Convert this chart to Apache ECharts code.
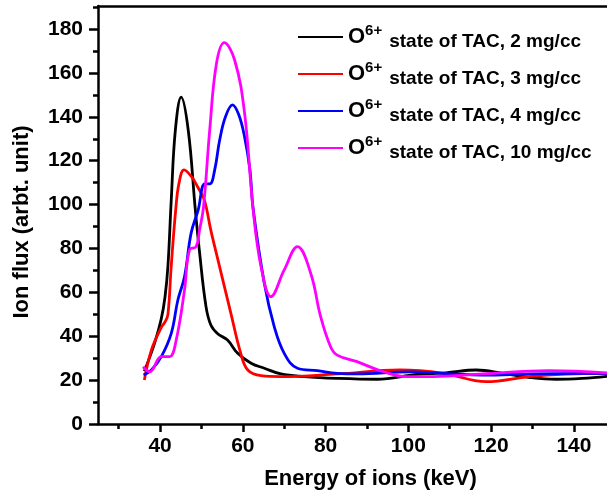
<!DOCTYPE html>
<html>
<head>
<meta charset="utf-8">
<script src="https://cdn.jsdelivr.net/npm/echarts@6/dist/echarts.min.js"></script>
<style>
  html, body { margin: 0; padding: 0; background: #fff; }
  #chart { width: 607px; height: 495px; }
</style>
</head>
<body>
<div id="chart"></div>
<script>
const seriesNames = [
  'O6+ state of TAC, 2 mg/cc',
  'O6+ state of TAC, 3 mg/cc',
  'O6+ state of TAC, 4 mg/cc',
  'O6+ state of TAC, 10 mg/cc'
]
const legendLabels = ['2 mg/cc', '3 mg/cc', '4 mg/cc', '10 mg/cc']

// energy (keV) / flux pairs
const x2 = [36.2, 38.7, 40.3, 41.2, 41.9, 42.7, 43.7, 45.1, 46.8, 48.5, 49.5, 51.1, 52.3, 54, 56.3, 58.75, 62, 65.2, 69.2, 74.8, 82.8, 92.4, 102, 109, 116.4, 122.8, 129, 135.7, 142, 148]
const y2 = [24, 37, 48, 58, 72, 102, 134, 149, 134, 98, 79, 53.5, 45, 41, 38.3, 32.2, 27.7, 25.4, 22.8, 21.6, 20.8, 20.4, 22.6, 23.3, 24.6, 23.1, 21.3, 20.4, 20.8, 21.7]

const x3 = [36.2, 37.9, 40.3, 41.2, 41.9, 42.7, 43.8, 44.6, 45.8, 47.6, 49.1, 50.7, 52.3, 54, 57.1, 59.5, 61.2, 64.4, 69.2, 82.8, 98, 108.4, 118.8, 129.2, 138, 148]
const y3 = [20, 33.7, 44, 46.5, 50, 72, 98, 110, 115.8, 112.7, 108, 102, 88, 74.7, 50.5, 32.2, 24.6, 22, 21.6, 22.8, 24.6, 23.1, 19.3, 21.6, 22.7, 23.1]

const x4 = [36, 37.9, 40.3, 42.7, 44.3, 45.9, 47.5, 49.2, 50.8, 52, 53.2, 54.4, 55.8, 57.5, 59, 60.4, 61.7, 62.5, 65.2, 67.6, 70, 73.2, 78, 82.8, 87.6, 100.4, 109, 118, 130, 148]
const y4 = [22.3, 24.6, 30.7, 41.3, 56.5, 67.1, 87, 97.5, 109.4, 109.4, 115.8, 129.4, 140, 145.4, 141, 131, 116, 98, 64, 44.3, 32.2, 25.4, 24.3, 23.1, 22.8, 23.8, 23, 22.3, 22.8, 23.1]

const x10 = [35.9, 37.5, 40.3, 42.3, 43.9, 45.9, 47.1, 48.7, 49.5, 50.5, 52, 53.6, 55.5, 58, 60.4, 62.5, 64.4, 66.8, 70, 73.2, 76.4, 78.8, 81.2, 82.8, 87.6, 94, 99.6, 106, 118, 134, 148]
const y10 = [26.1, 23.8, 30.7, 30.7, 38.3, 61, 79.3, 80.8, 88, 99, 134, 164, 173.8, 166, 142, 97.5, 71.7, 58, 70.2, 80.8, 68.7, 48.9, 35.2, 31.4, 28.4, 23.8, 21.6, 21.6, 22.8, 24.3, 23.3]

const colors = ['#000000', '#ff0000', '#0000ff', '#ff00ff']

const xMajor = [40, 60, 80, 100, 120, 140]
const xMinor = [30, 50, 70, 90, 110, 130]
const yMajor = [0, 20, 40, 60, 80, 100, 120, 140, 160, 180]
const yMinor = [10, 30, 50, 70, 90, 110, 130, 150, 170, 190]

const font = '"Liberation Sans", Arial, sans-serif'

function pairs(xs, ys) {
  return xs.map((x, i) => [x, ys[i]])
}

const chart = echarts.init(document.getElementById('chart'))

const lineAxis = { lineStyle: { color: '#000', width: 2.5 } }
const tickLine = { width: 2.5, color: '#000' }
const labelFont = { fontSize: 21, fontWeight: 'bold', fontFamily: font, color: '#000' }

const option = {
  animation: false,
  color: colors,
  grid: { left: 98, right: 0, top: 6, bottom: 71 },
  legend: {
    left: 298,
    top: 23,
    padding: 0,
    orient: 'vertical',
    itemWidth: 45,
    itemHeight: 12,
    itemGap: 9,
    icon: 'path://M0,5 L45,5 L45,7 L0,7 Z',
    data: seriesNames,
    formatter: name => {
      const i = seriesNames.indexOf(name)
      return '{o|O}{sup|6+}{s|state of TAC, ' + legendLabels[i] + '}'
    },
    textStyle: {
      fontFamily: font,
      rich: {
        o: { fontSize: 22, fontWeight: 'bold', lineHeight: 28, verticalAlign: 'middle', fontFamily: font, color: '#000' },
        sup: { fontSize: 15, fontWeight: 'bold', lineHeight: 12, verticalAlign: 'top', fontFamily: font, color: '#000' },
        s: { fontSize: 19, fontWeight: 'bold', lineHeight: 22, verticalAlign: 'bottom', fontFamily: font, color: '#000', padding: [0, 0, 0, 7] }
      }
    }
  },
  graphic: [
    {
      type: 'text',
      x: 22,
      y: 222,
      rotation: Math.PI / 2,
      style: {
        text: 'Ion flux (arbt. unit)',
        fontSize: 22,
        fontWeight: 'bold',
        fontFamily: font,
        fill: '#000',
        align: 'center',
        verticalAlign: 'middle'
      }
    }
  ],
  xAxis: [
    {
      type: 'value',
      min: 25,
      max: 148,
      position: 'bottom',
      axisLine: lineAxis,
      axisTick: { customValues: xMajor, length: 8, lineStyle: tickLine },
      axisLabel: Object.assign({ customValues: xMajor, margin: 12 }, labelFont),
      splitLine: { show: false },
      name: 'Energy of ions (keV)',
      nameLocation: 'middle',
      nameGap: 44,
      nameTextStyle: {
        fontSize: 22,
        fontWeight: 'bold',
        fontFamily: font,
        color: '#000',
        padding: [0, 0, 0, 36]
      }
    },
    {
      type: 'value',
      min: 25,
      max: 148,
      position: 'bottom',
      axisLine: { show: false },
      axisTick: { customValues: xMinor, length: 5, lineStyle: tickLine },
      axisLabel: { show: false },
      splitLine: { show: false }
    },
    {
      type: 'value',
      min: 25,
      max: 148,
      position: 'top',
      axisLine: lineAxis,
      axisTick: { show: false },
      axisLabel: { show: false },
      splitLine: { show: false }
    }
  ],
  yAxis: [
    {
      type: 'value',
      min: 0,
      max: 190.5,
      position: 'left',
      axisLine: lineAxis,
      axisTick: { customValues: yMajor, length: 9, lineStyle: tickLine },
      axisLabel: Object.assign({ customValues: yMajor, margin: 15 }, labelFont),
      splitLine: { show: false }
    },
    {
      type: 'value',
      min: 0,
      max: 190.5,
      position: 'left',
      axisLine: { show: false },
      axisTick: { customValues: yMinor, length: 5, lineStyle: tickLine },
      axisLabel: { show: false },
      splitLine: { show: false }
    }
  ],
  series: [
    [x2, y2],
    [x3, y3],
    [x4, y4],
    [x10, y10]
  ].map((d, i) => ({
    name: seriesNames[i],
    type: 'line',
    xAxisIndex: 0,
    yAxisIndex: 0,
    data: pairs(d[0], d[1]),
    symbol: 'none',
    smooth: 0.4,
    lineStyle: { width: 2.8, color: colors[i] }
  }))
}

chart.setOption(option)
</script>
</body>
</html>
